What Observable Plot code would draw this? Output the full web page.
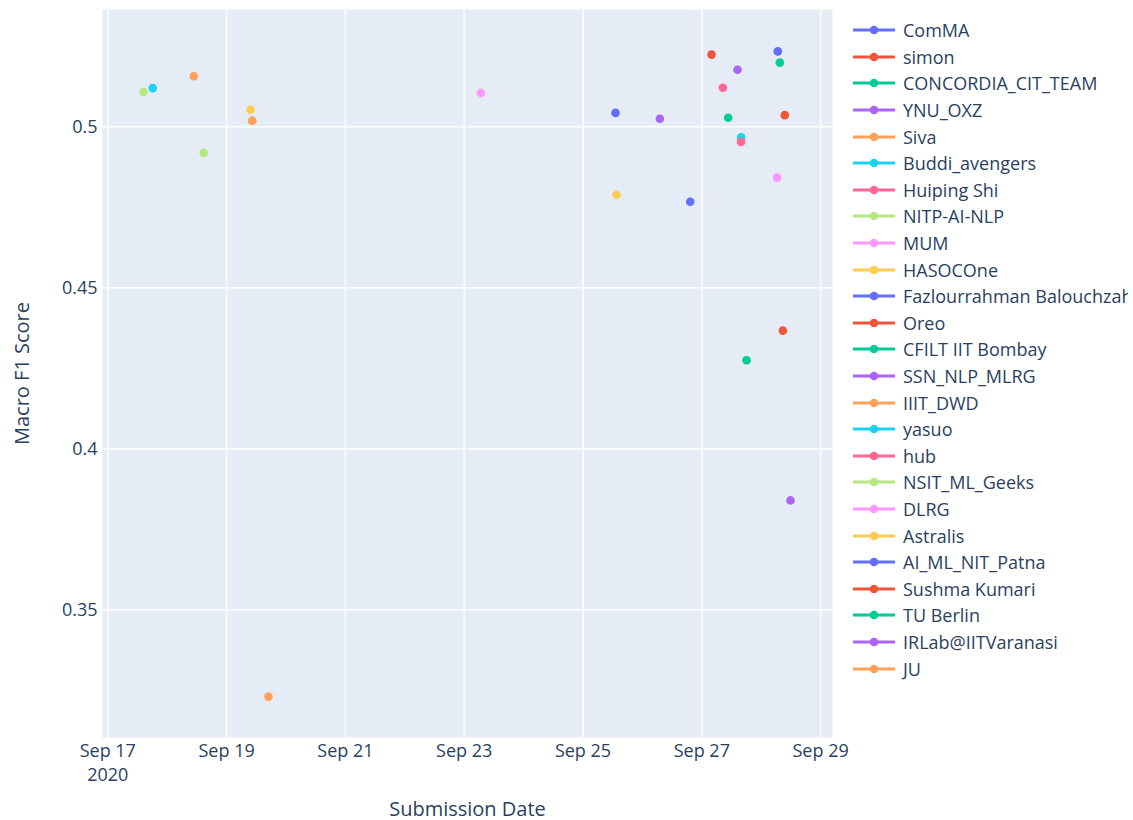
<!DOCTYPE html>
<html>
<head>
<meta charset="utf-8">
<script src="https://cdn.jsdelivr.net/npm/d3@7"></script>
<script src="https://cdn.jsdelivr.net/npm/@observablehq/plot@0.6"></script>
<style>
  html, body { margin: 0; padding: 0; background: #fff; }
  #wrap { position: relative; width: 1133px; height: 820px; overflow: hidden; font-family: "Open Sans", sans-serif; }
  #legend { position: absolute; left: 853px; top: 17px; width: 275px; height: 680px; overflow: hidden; }
  .row { position: absolute; left: 0; height: 26.6px; white-space: nowrap; display: flex; align-items: center; }
  .row span { margin-left: 8px; font-size: 18px; color: #2a3f5f; }
</style>
</head>
<body>
<div id="wrap"><div id="chart"></div><div id="legend"></div></div>
<script>
const teams = ["ComMA","simon","CONCORDIA_CIT_TEAM","YNU_OXZ","Siva","Buddi_avengers","Huiping Shi","NITP-AI-NLP","MUM","HASOCOne","Fazlourrahman Balouchzahi","Oreo","CFILT IIT Bombay","SSN_NLP_MLRG","IIIT_DWD","yasuo","hub","NSIT_ML_Geeks","DLRG","Astralis","AI_ML_NIT_Patna","Sushma Kumari","TU Berlin","IRLab@IITVaranasi","JU"];
const dates = ["2020-09-28T06:42","2020-09-27T03:55","2020-09-28T07:30","2020-09-27T14:25","2020-09-18T10:45","2020-09-17T18:10","2020-09-27T08:30","2020-09-17T14:25","2020-09-23T06:42","2020-09-19T09:39","2020-09-25T13:08","2020-09-28T09:32","2020-09-27T10:39","2020-09-26T07:02","2020-09-19T10:21","2020-09-27T15:55","2020-09-27T15:50","2020-09-18T14:47","2020-09-28T06:27","2020-09-25T13:32","2020-09-26T19:19","2020-09-28T08:44","2020-09-27T18:04","2020-09-28T11:50","2020-09-19T16:55"];
const scores = [0.5234,0.5224,0.5199,0.5177,0.5157,0.5120,0.5121,0.5108,0.5105,0.5053,0.5043,0.5036,0.5028,0.5025,0.5019,0.4967,0.4953,0.4919,0.4842,0.4789,0.4767,0.4367,0.4275,0.3840,0.3231];
const palette = ["#636efa","#EF553B","#00cc96","#ab63fa","#FFA15A","#19d3f3","#FF6692","#B6E880","#FF97FF","#FECB52"];
const xTicks = ["2020-09-17","2020-09-19","2020-09-21","2020-09-23","2020-09-25","2020-09-27","2020-09-29"];
const yTicks = [0.35, 0.4, 0.45, 0.5];
const xDomain = ["2020-09-16T21:52","2020-09-29T04:48"];
const yDomain = [0.3104, 0.5364];

const data = teams.map((t, i) => ({team: t, date: new Date(dates[i] + "Z"), score: scores[i]}));
const colorRange = teams.map((_, i) => palette[i % palette.length]);
const xt = xTicks.map(d => new Date(d + "T00:00Z"));
const fmt = d3.utcFormat("%b %d");

const chart = Plot.plot({
  width: 1133,
  height: 820,
  marginLeft: 102,
  marginRight: 301,
  marginTop: 9,
  marginBottom: 83,
  style: {fontFamily: "Open Sans, sans-serif", fontSize: "18px", color: "#2a3f5f", background: "transparent", overflow: "visible"},
  x: {type: "utc", domain: xDomain.map(d => new Date(d + "Z"))},
  y: {domain: yDomain},
  color: {domain: teams, range: colorRange},
  marks: [
    Plot.frame({fill: "#E5ECF6", stroke: "none"}),
    Plot.gridX(xt, {stroke: "#fff", strokeOpacity: 1, strokeWidth: 1.5}),
    Plot.gridY(yTicks, {stroke: "#fff", strokeOpacity: 1, strokeWidth: 1.5}),
    Plot.axisX(xt, {tickSize: 0, tickPadding: 3, lineHeight: 1.3, fill: "#2a3f5f", fontSize: 18,
      tickFormat: (d, i) => i === 0 ? fmt(d) + "\n" + d.getUTCFullYear() : fmt(d),
      label: "Submission Date", labelAnchor: "center", labelOffset: 78}),
    Plot.axisY(yTicks, {tickSize: 0, tickPadding: 5, fill: "#2a3f5f", fontSize: 18, tickFormat: d => String(d),
      label: "Macro F1 Score", labelAnchor: "center", labelOffset: 88}),
    Plot.dot(data, {x: "date", y: "score", fill: "team", r: 4.3})
  ]
});
chart.querySelectorAll("g[aria-label='x-axis label'] text, g[aria-label='y-axis label'] text").forEach(t => {
  t.style.fontSize = "20px";
  t.textContent = t.textContent.replace(/\s*[→←↑↓]\s*/g, "").trim();
});
document.getElementById("chart").appendChild(chart);

const legend = document.getElementById("legend");
teams.forEach((t, i) => {
  const row = document.createElement("div");
  row.className = "row";
  row.style.top = (i * 26.6) + "px";
  const c = colorRange[i];
  row.innerHTML = `<svg width="42" height="12"><line x1="0" x2="42" y1="6" y2="6" stroke="${c}" stroke-width="2.8"/><circle cx="21" cy="6" r="4.3" fill="${c}"/></svg><span>${t}</span>`;
  legend.appendChild(row);
});
</script>
</body>
</html>
